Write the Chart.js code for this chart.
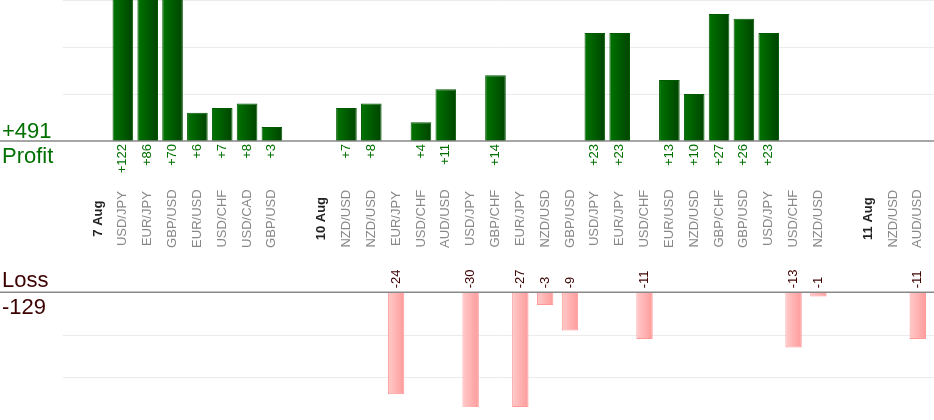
<!DOCTYPE html>
<html>
<head>
<meta charset="utf-8">
<script src="https://cdn.jsdelivr.net/npm/chart.js@4.4.1/dist/chart.umd.min.js"></script>
<style>
  html, body { margin: 0; padding: 0; background: #fff; }
  #chart { display: block; }
</style>
</head>
<body>
<canvas id="chart" width="934" height="420"></canvas>
<script>
// one slot per trade; date slots open a new day, '' is an empty gap
var labels = ['7 Aug', 'USD/JPY', 'EUR/JPY', 'GBP/USD', 'EUR/USD', 'USD/CHF', 'USD/CAD', 'GBP/USD', '',
  '10 Aug', 'NZD/USD', 'NZD/USD', 'EUR/JPY', 'USD/CHF', 'AUD/USD', 'USD/JPY', 'GBP/CHF', 'EUR/JPY', 'NZD/USD', 'GBP/USD',
  'USD/JPY', 'EUR/JPY', 'USD/CHF', 'EUR/USD', 'NZD/USD', 'GBP/CHF', 'GBP/USD', 'USD/JPY', 'USD/CHF', 'NZD/USD', '',
  '11 Aug', 'NZD/USD', 'AUD/USD'];
var dates = ['7 Aug', '10 Aug', '11 Aug'];
var profit = [null, 122, 86, 70, 6, 7, 8, 3, null,
  null, 7, 8, null, 4, 11, null, 14, null, null, null,
  23, 23, null, 13, 10, 27, 26, 23, null, null, null,
  null, null, null];
var loss = [null, null, null, null, null, null, null, null, null,
  null, null, null, -24, null, null, -30, null, -27, -3, -9,
  null, null, -11, null, null, null, null, null, -13, -1, null,
  null, null, -11];
var profitTicks = [10, 20, 30];
var lossTicks = [-10, -20];

// panel geometry (pixels inside the 407px tall plot area)
var AREA_H = 407, PROFIT_BASE = 141, LOSS_BASE = 292.3;
var PROFIT_MAX = 30, LOSS_MIN = -27;
var profitMin = PROFIT_MAX - PROFIT_MAX * AREA_H / PROFIT_BASE;
var lossMax = -LOSS_MIN * LOSS_BASE / (AREA_H - LOSS_BASE);

var totalProfit = profit.reduce(function (s, v) { return s + (v || 0); }, 0);
var totalLoss = loss.reduce(function (s, v) { return s + (v || 0); }, 0);

var FONT = '"Liberation Sans", Arial, sans-serif';
var GREEN = '#007000', MAROON = '#3c0000';

// horizontal gradient per bar, worked out from the x scale
function barFill(c0, c1, pct) {
    return function (ctx) {
        var chart = ctx.chart, x = chart.scales.x;
        if (!x || ctx.dataIndex === undefined) return c1;
        var cx = x.getPixelForValue(ctx.dataIndex);
        var half = x.width / labels.length * pct / 2;
        if (!isFinite(cx) || !isFinite(half) || half <= 0) return c1;
        var g = chart.ctx.createLinearGradient(cx - half, 0, cx + half, 0);
        g.addColorStop(0, c0);
        g.addColorStop(1, c1);
        return g;
    };
}

var decorations = {
    id: 'decorations',
    beforeDatasetsDraw: function (chart) {
        var ctx = chart.ctx, yP = chart.scales.yP, yL = chart.scales.yL;
        ctx.save();
        ctx.strokeStyle = '#ebebeb';
        ctx.lineWidth = 1;
        profitTicks.forEach(function (v) {
            var y = Math.round(yP.getPixelForValue(v)) + 0.5;
            ctx.beginPath(); ctx.moveTo(63, y); ctx.lineTo(chart.width, y); ctx.stroke();
        });
        lossTicks.forEach(function (v) {
            var y = Math.round(yL.getPixelForValue(v)) + 0.5;
            ctx.beginPath(); ctx.moveTo(63, y); ctx.lineTo(chart.width, y); ctx.stroke();
        });
        ctx.restore();
    },
    afterDatasetsDraw: function (chart) {
        var ctx = chart.ctx, x = chart.scales.x, yP = chart.scales.yP, yL = chart.scales.yL;
        var p0 = yP.getPixelForValue(0), l0 = yL.getPixelForValue(0);
        ctx.save();

        // zero lines
        ctx.strokeStyle = '#888';
        ctx.lineWidth = 1.5;
        [p0, l0].forEach(function (y) {
            ctx.beginPath(); ctx.moveTo(0, y); ctx.lineTo(chart.width, y); ctx.stroke();
        });

        // totals on the left
        ctx.textAlign = 'left';
        ctx.textBaseline = 'alphabetic';
        ctx.font = '22px ' + FONT;
        ctx.fillStyle = GREEN;
        ctx.fillText('+' + totalProfit, 2, p0 - 3);
        ctx.fillText('Profit', 2, p0 + 22);
        ctx.fillStyle = MAROON;
        ctx.fillText('Loss', 2, l0 - 5);
        ctx.fillText(String(totalLoss), 2, l0 + 22);

        // rotated labels
        var mid = (p0 + l0) / 2 + 2;
        labels.forEach(function (lab, i) {
            var cx = x.getPixelForValue(i);
            ctx.save();
            ctx.translate(cx, 0);
            ctx.rotate(-Math.PI / 2);
            ctx.textBaseline = 'middle';
            if (profit[i] != null) {
                ctx.font = '13px ' + FONT;
                ctx.fillStyle = GREEN;
                ctx.textAlign = 'right';
                ctx.fillText('+' + profit[i], -(p0 + 3), 0);
            }
            if (loss[i] != null) {
                ctx.font = '13px ' + FONT;
                ctx.fillStyle = MAROON;
                ctx.textAlign = 'left';
                ctx.fillText(String(loss[i]), -(l0 - 4), 0);
            }
            if (lab) {
                var isDate = dates.indexOf(lab) >= 0;
                ctx.font = (isDate ? 'bold ' : '') + '13px ' + FONT;
                ctx.fillStyle = isDate ? '#222' : '#888';
                ctx.textAlign = 'center';
                ctx.fillText(lab, -mid, 0);
            }
            ctx.restore();
        });
        ctx.restore();
    }
};

var chart = new Chart(document.getElementById('chart').getContext('2d'), {
    type: 'bar',
    data: {
        labels: labels,
        datasets: [{
            label: 'Profit',
            data: profit,
            yAxisID: 'yP',
            grouped: false,
            barPercentage: 0.83,
            categoryPercentage: 1,
            backgroundColor: barFill('#007400', '#004400', 0.83),
            borderColor: '#005800',
            borderWidth: 1,
            clip: 0
        }, {
            label: 'Loss',
            data: loss,
            yAxisID: 'yL',
            grouped: false,
            barPercentage: 0.66,
            categoryPercentage: 1,
            backgroundColor: barFill('#ffcaca', '#ff9a9a', 0.66),
            borderColor: '#ff9999',
            borderWidth: 1,
            clip: 0
        }]
    },
    options: {
        responsive: false,
        animation: false,
        layout: { padding: { left: 85.6, right: 3.8, top: 0, bottom: 420 - AREA_H } },
        plugins: {
            legend: { display: false },
            tooltip: { enabled: false }
        },
        scales: {
            x: { display: false, offset: true },
            yP: { display: false, position: 'left', min: profitMin, max: PROFIT_MAX },
            yL: { display: false, position: 'left', min: LOSS_MIN, max: lossMax }
        }
    },
    plugins: [decorations]
});
</script>
</body>
</html>
